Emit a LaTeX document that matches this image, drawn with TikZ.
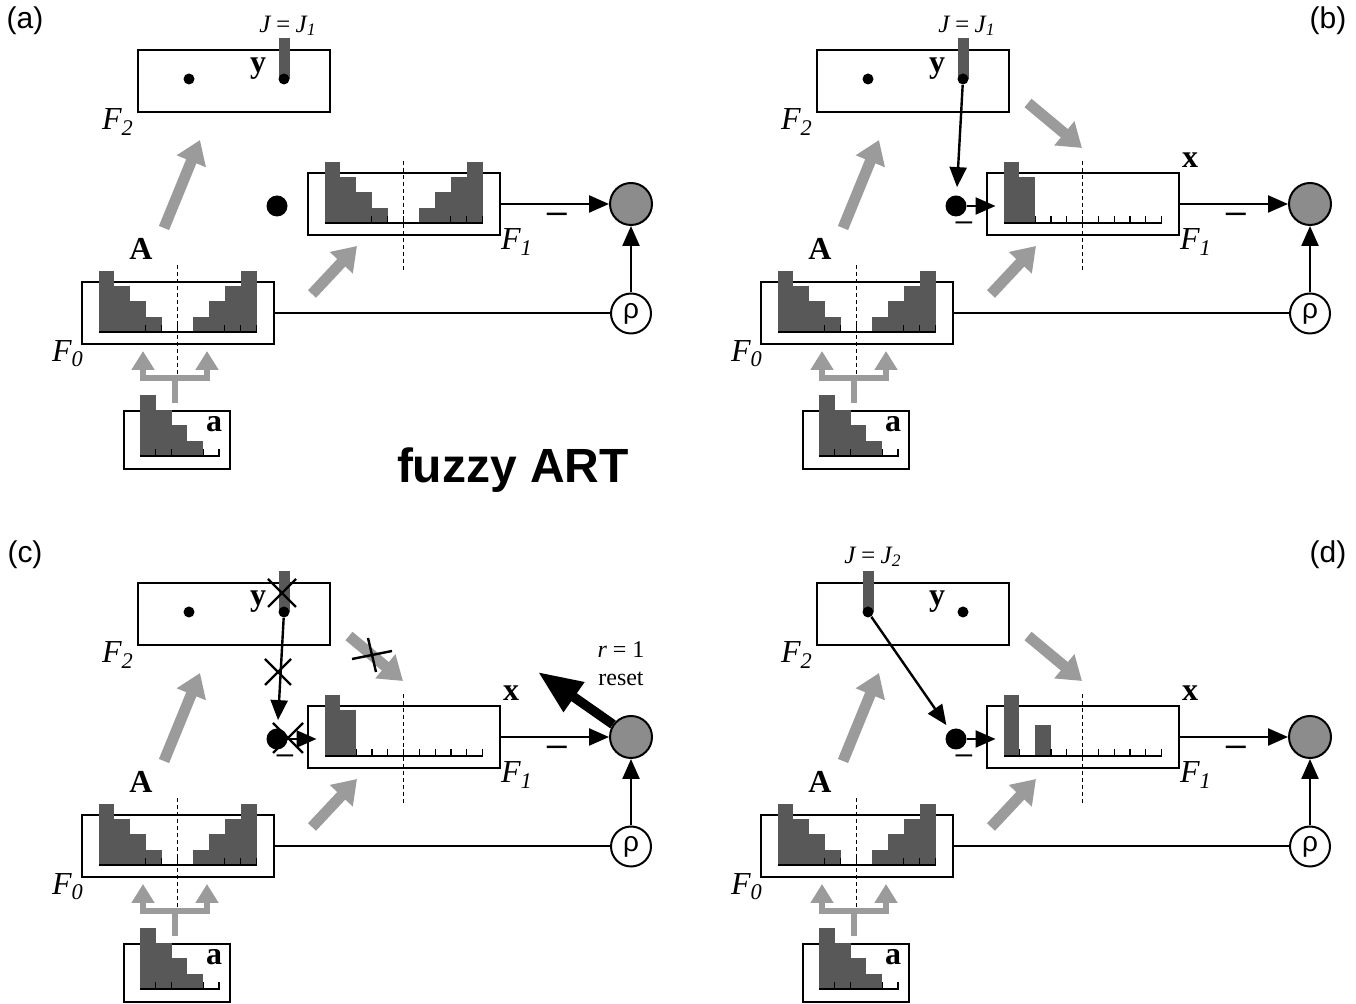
\documentclass[tikz,border=0pt]{standalone}
\usepackage{fontspec}
\setmainfont{Liberation Serif}
\setsansfont{Liberation Sans}
\usetikzlibrary{arrows.meta, calc}
\definecolor{barGray}{RGB}{88,88,88}
\definecolor{arrGray}{RGB}{155,155,155}
\definecolor{nodeGray}{RGB}{140,140,140}
\pgfdeclarelayer{front}
\pgfsetlayers{main,front}
\tikzset{
  layerBox/.style={draw, line width=1pt, minimum width=96pt, minimum height=31pt, inner sep=0pt},
  inBox/.style={layerBox, minimum width=53pt, minimum height=29pt},
  ydot/.style={circle, fill, inner sep=0pt, minimum size=5.5pt},
  gateDot/.style={circle, fill, inner sep=0pt, minimum size=10.5pt},
  orientN/.style={circle, draw, line width=1pt, fill=nodeGray, minimum size=21pt, inner sep=0pt},
  rhoN/.style={circle, draw, line width=1pt, fill=white, minimum size=20pt, inner sep=0pt,
    font=\sffamily\fontsize{14}{14}\selectfont},
  grayArr/.style={-{Triangle[length=11.5pt,width=15pt]}, line width=5.5pt, draw=arrGray},
  forkArr/.style={-{Triangle[length=9.5pt,width=11pt]}, line width=3pt, draw=arrGray},
  blkArr/.style={-{Triangle[length=10pt,width=8.5pt]}, line width=1.2pt},
  resetArr/.style={-{Triangle[length=22pt,width=17pt]}, line width=4.8pt},
  plainLine/.style={line width=1pt},
  midLine/.style={line width=0.5pt, dash pattern=on 2pt off 1.5pt},
  tickLine/.style={line width=0.6pt},
  xLine/.style={line width=1.2pt},
  lbl/.style={font=\fontsize{16}{16}\selectfont\itshape},
  jlbl/.style={font=\fontsize{12.5}{12.5}\selectfont\itshape},
  vec/.style={font=\fontsize{16}{16}\selectfont\bfseries},
  tag/.style={font=\sffamily\fontsize{15}{15}\selectfont},
  note/.style={font=\fontsize{12}{12}\selectfont},
  minusBig/.style={font=\sffamily\fontsize{18}{18}\selectfont, inner sep=0pt},
  minusSmall/.style={font=\sffamily\fontsize{15}{15}\selectfont, inner sep=0pt},
}

% bars on a baseline: left x, baseline y, heights
\newcommand{\histo}[3]{%
  \foreach \h [count=\i from 0] in {#3}{
    \fill[barGray] ({#1+15.8*\i},#2) rectangle ++(15.8,{-15.3*\h});
    \draw[tickLine] ({#1+15.8*\i},#2) -- ++(15.8,0) -- ++(0,-7);
  }}

% cross over something
\newcommand{\xmark}[2]{%
  \draw[xLine] ($(#1)+(-#2,-#2)$) -- ($(#1)+(#2,#2)$)
               ($(#1)+(#2,-#2)$) -- ($(#1)+(-#2,#2)$);}

% everything that is in all four panels
\newcommand{\basepanel}{%
  %% F2
  \node[layerBox] (F2) at (234,81) {};
  \node[lbl] (F2l) at (118,122) {F\textsubscript{2}};
  \node[vec] (ylab) at (258,69) {y};
  \begin{pgfonlayer}{front}
    \node[ydot] (yL) at (189,79) {};
    \node[ydot] (yR) at (284,79) {};
    \node[gateDot] (gate) at (277,206) {};
  \end{pgfonlayer}
  %% F0
  \node[layerBox] (F0) at (177.5,313.5) {};
  \histo{98.5}{332}{4,3,2,1,0,0,1,2,3,4}
  \draw[midLine] (177.5,265) -- (177.5,393);
  \node[lbl] (F0l) at (68,354) {F\textsubscript{0}};
  \node[vec] (Alab) at (141,249) {A};
  %% input a
  \node[inBox] (ain) at (177,440) {};
  \histo{140}{456}{4,3,2,1,0}
  \node[vec] (alab) at (214,424) {a};
  \coordinate (fkS) at (175,403);
  \coordinate (fkJ) at (175,378);
  \coordinate (fkL) at (143,351);
  \coordinate (fkR) at (207,351);
  \draw[forkArr] (fkS) -- (fkJ) -| (fkL);
  \draw[forkArr] (fkJ) -| (fkR);
  %% F1
  \node[layerBox] (F1) at (403.5,204) {};
  \draw[midLine] (403.5,161) -- (403.5,273);
  \node[lbl] (F1l) at (517,242) {F\textsubscript{1}};
  %% gray flows
  \coordinate (upS) at (164,228);
  \coordinate (upE) at (200,140);
  \draw[grayArr] (upS) -- (upE);
  \coordinate (dgS) at (312,294);
  \coordinate (dgE) at (357,246);
  \draw[grayArr] (dgS) -- (dgE);
  %% orienting
  \node[orientN] (orient) at (631,204) {};
  \node[rhoN] (rho) at (631,313.5) {ρ};
  \draw[blkArr] (F1.east) -- (orient.west);
  \node[minusBig] (mOut) at (557,218) {–};
  \draw[plainLine] (F0.east) -- (rho.west);
  \draw[blkArr] (rho.north) -- (orient.south);
}

\begin{document}
\begin{tikzpicture}[x=0.5pt, y=-0.5pt]
\useasboundingbox (0,0) rectangle (1356,1004);

\node[tag] (ttl) at (513,470) {\bfseries\fontsize{24}{24}\selectfont fuzzy ART};

%% ── (a) ─────────────────────────────────────────────
\begin{scope}[name prefix=a-]
  \node[tag] (tag) at (25,21) {(a)};
  \basepanel
  \histo{324.5}{223}{4,3,2,1,0,0,1,2,3,4}
  \fill[barGray] ($(yR)+(-5.5,0)$) rectangle ($(yR)+(5.5,-41)$);
  \node[jlbl] (J) at (288,26) {J\,=\,J\textsubscript{1}};
\end{scope}

%% ── (b) ─────────────────────────────────────────────
\begin{scope}[shift={(679,0)}, name prefix=b-]
  \node[tag] (tag) at (649,21) {(b)};
  \basepanel
  \histo{324.5}{223}{4,3,0,0,0,0,0,0,0,0}
  \fill[barGray] ($(yR)+(-5.5,0)$) rectangle ($(yR)+(5.5,-41)$);
  \node[jlbl] (J) at (288,26) {J\,=\,J\textsubscript{1}};
  \node[vec] (xlab) at (511,160) {x};
  \coordinate (dnS) at (349,103);
  \coordinate (dnE) at (403,148);
  \draw[grayArr] (dnS) -- (dnE);
  \draw[blkArr, shorten >=4pt] (yR) -- (gate);
  \draw[blkArr, shorten >=-5pt] (gate) -- (gate -| F1.west);
  \node[minusSmall] (mG) at (285,226) {–};
\end{scope}

%% ── (c) ─────────────────────────────────────────────
\begin{scope}[shift={(0,533)}, name prefix=c-]
  \node[tag] (tag) at (25,22) {(c)};
  \basepanel
  \histo{324.5}{223}{4,3,0,0,0,0,0,0,0,0}
  \fill[barGray] ($(yR)+(-5.5,0)$) rectangle ($(yR)+(5.5,-41)$);
  \node[vec] (xlab) at (511,160) {x};
  \coordinate (dnS) at (349,103);
  \coordinate (dnE) at (403,148);
  \draw[grayArr] (dnS) -- (dnE);
  \draw[blkArr, shorten >=4pt] (yR) -- (gate);
  \draw[blkArr, shorten >=-5pt] (gate) -- (gate -| F1.west);
  \node[minusSmall] (mG) at (285,226) {–};
  % blocked paths
  \coordinate (xJ) at (282,60);
  \coordinate (xL) at (278,139);
  \coordinate (xG) at (288,205);
  \coordinate (xA) at (372,122);
  \xmark{xJ}{14}
  \xmark{xL}{13}
  \xmark{xG}{15}
  \draw[xLine] ($(xA)+(-20,4)$) -- ($(xA)+(20,-4)$)
               ($(xA)+(-4,-17)$) -- ($(xA)+(4,17)$);
  % reset
  \coordinate (rsE) at (538,139);
  \draw[resetArr] (orient) -- (rsE);
  \node[note] (rl) at (621,117) {\textit{r} = 1};
  \node[note] (rs) at (621,146) {reset};
\end{scope}

%% ── (d) ─────────────────────────────────────────────
\begin{scope}[shift={(679,533)}, name prefix=d-]
  \node[tag] (tag) at (649,22) {(d)};
  \basepanel
  \histo{324.5}{223}{4,0,2,0,0,0,0,0,0,0}
  \fill[barGray] ($(yL)+(-5.5,0)$) rectangle ($(yL)+(5.5,-41)$);
  \node[jlbl] (J) at (194,24) {J\,=\,J\textsubscript{2}};
  \node[vec] (xlab) at (511,160) {x};
  \coordinate (dnS) at (349,103);
  \coordinate (dnE) at (403,148);
  \draw[grayArr] (dnS) -- (dnE);
  \draw[blkArr, shorten >=3pt] (yL) -- (gate);
  \draw[blkArr, shorten >=-5pt] (gate) -- (gate -| F1.west);
  \node[minusSmall] (mG) at (285,226) {–};
\end{scope}

\end{tikzpicture}
\end{document}
